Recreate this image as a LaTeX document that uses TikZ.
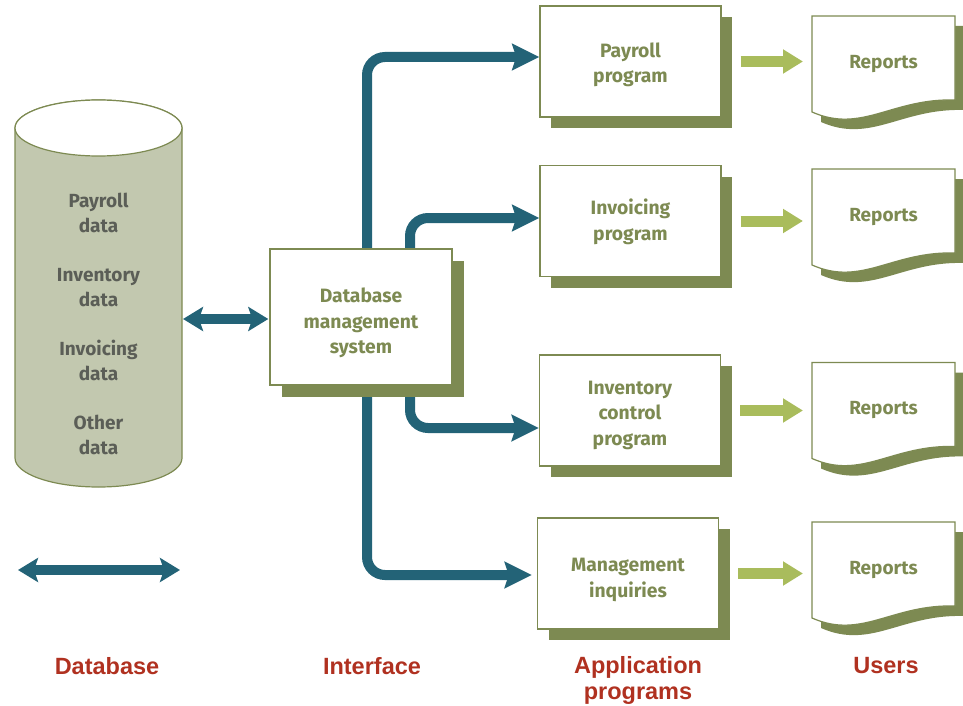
\documentclass[tikz,border=0pt]{standalone}
\usepackage{fontspec}
\setmainfont{Fira Sans}
\newfontfamily\labelfont{Liberation Sans}
\usetikzlibrary{arrows.meta,shadows,backgrounds,calc}

\definecolor{boxolive}{HTML}{7D8A52}
\definecolor{cylfill}{HTML}{C2C8AF}
\definecolor{cyltext}{HTML}{5B5E57}
\definecolor{dbteal}{HTML}{236377}
\definecolor{usegreen}{HTML}{A9BC5C}
\definecolor{labelred}{HTML}{B03120}

% extra headroom above the first line, which lowers the text block in its box
\newcommand\headroom[1]{\rule{0pt}{#1}}

\tikzset{
  boxfont/.style={font=\bfseries\fontsize{19}{24.5}\selectfont},
  progbox/.style={draw=boxolive, line width=1.4pt, fill=white,
    font=\bfseries\fontsize{19.3}{25.5}\selectfont,
    text=boxolive, align=center, minimum width=181pt, minimum height=111pt,
    drop shadow={shadow xshift=#1, shadow yshift=-#1, fill=boxolive, opacity=1}},
  progbox/.default=11pt,
  reportnode/.style={inner sep=0pt, outer sep=0pt, minimum width=143pt,
    minimum height=96pt, boxfont, text=boxolive},
  flow/.style={draw=dbteal, line width=10pt, rounded corners=18pt,
    -{Stealth[width=26pt,length=27pt,inset=4pt]}},
  dbl/.style={draw=dbteal, line width=10pt,
    {Stealth[width=24pt,length=20pt,inset=4pt]}-{Stealth[width=24pt,length=20pt,inset=4pt]}},
  usearrow/.style={draw=usegreen, line width=11pt,
    -{Triangle[width=23pt,length=20pt]}},
  layerlabel/.style={font=\labelfont\bfseries\fontsize{23.5}{26}\selectfont,
    text=labelred, align=center},
}

% report sheet with a wavy lower edge and an offset shadow
\newcommand\reportdoc[1]{%
  \fill[boxolive] ([shift={(9,10)}]#1.north west) -- ([shift={(9,10)}]#1.north east)
    -- ([shift={(9,-2)}]#1.south east)
    .. controls ([shift={(89,-4)}]#1.south west) and ([shift={(59,32)}]#1.south west)
    .. ([shift={(9,10)}]#1.south west) -- cycle;
  \filldraw[draw=boxolive, line width=1.2pt, fill=white]
    (#1.north west) -- (#1.north east) -- ([shift={(0,-12)}]#1.south east)
    .. controls ([shift={(80,-14)}]#1.south west) and ([shift={(50,22)}]#1.south west)
    .. (#1.south west) -- cycle;
}

\begin{document}
\begin{tikzpicture}[x=1pt, y=-1pt]
\useasboundingbox (0,0) rectangle (963,706);

% database cylinder
\filldraw[draw=boxolive, line width=1.2pt, fill=cylfill]
  (15,128) -- (15,458) arc[start angle=180, end angle=360, x radius=83.5pt, y radius=29pt]
  -- (182,128) arc[start angle=0, end angle=180, x radius=83.5pt, y radius=28pt] -- cycle;
\filldraw[draw=boxolive, line width=1.2pt, fill=white]
  (98.5,128) ellipse[x radius=83.5pt, y radius=28pt];
\node[boxfont, text=cyltext, align=center] (dbtext) at (98.5,324)
  {Payroll\\data\\[25pt]Inventory\\data\\[25pt]Invoicing\\data\\[25pt]Other\\data};
\coordinate (dbside) at (183,319);

% interface
\node[progbox=12pt, minimum width=182pt, minimum height=136pt] (dbms) at (361,317)
  {\headroom{27pt}Database\\management\\system};

% application programs
\node[progbox] (pay)  at (630.5,61.5) {\headroom{21pt}Payroll\\program};
\node[progbox] (inv)  at (630.5,221)  {\headroom{17pt}Invoicing\\program};
\node[progbox] (ic)   at (630,410.5)  {\headroom{23pt}Inventory\\control\\program};
\node[progbox] (mgmt) at (628,573.5)  {\headroom{26pt}Management\\inquiries};

% users
\node[reportnode] (rep1) at (883.5,64)  {Reports};
\node[reportnode] (rep2) at (883.5,217) {Reports};
\node[reportnode] (rep3) at (883.5,410.5) {Reports};
\node[reportnode] (rep4) at (883.5,570) {Reports};

\begin{scope}[on background layer]
  \reportdoc{rep1}
  \reportdoc{rep2}
  \reportdoc{rep3}
  \reportdoc{rep4}
  \draw[flow] ([xshift=6pt]dbms.north) |- ([yshift=4.5pt]pay.west);
  \draw[flow] ([xshift=49pt]dbms.north) |- ([yshift=3pt]inv.west);
  \draw[flow] ([xshift=49pt]dbms.south) |- ([yshift=-17.5pt]ic.west);
  \draw[flow] ([xshift=6pt]dbms.south) |- ([xshift=-5pt,yshift=-1.5pt]mgmt.west);
\end{scope}

\draw[dbl, shorten >=1pt] (dbside) -- (dbside -| dbms.west);

% program to report arrows
\foreach \p/\r in {pay/rep1, inv/rep2, ic/rep3, mgmt/rep4}{
  \coordinate (\p-out) at ([xshift=19pt]\p.east);
  \coordinate (\r-in) at ([xshift=-9pt]\r.west);
  \draw[usearrow] (\p-out) -- (\p-out -| \r-in);
}

% legend arrow
\coordinate (legL) at (18,570);
\coordinate (legR) at (180,570);
\draw[dbl] (legL) -- (legR);

% layer captions
\node[layerlabel] (lbdb) at (107,666) {Database};
\node[layerlabel] (lbif) at (372,666) {Interface};
\node[layerlabel] (lbap) at (638,680) {Application\\programs};
\node[layerlabel] (lbus) at (886,666) {Users};
\end{tikzpicture}
\end{document}
